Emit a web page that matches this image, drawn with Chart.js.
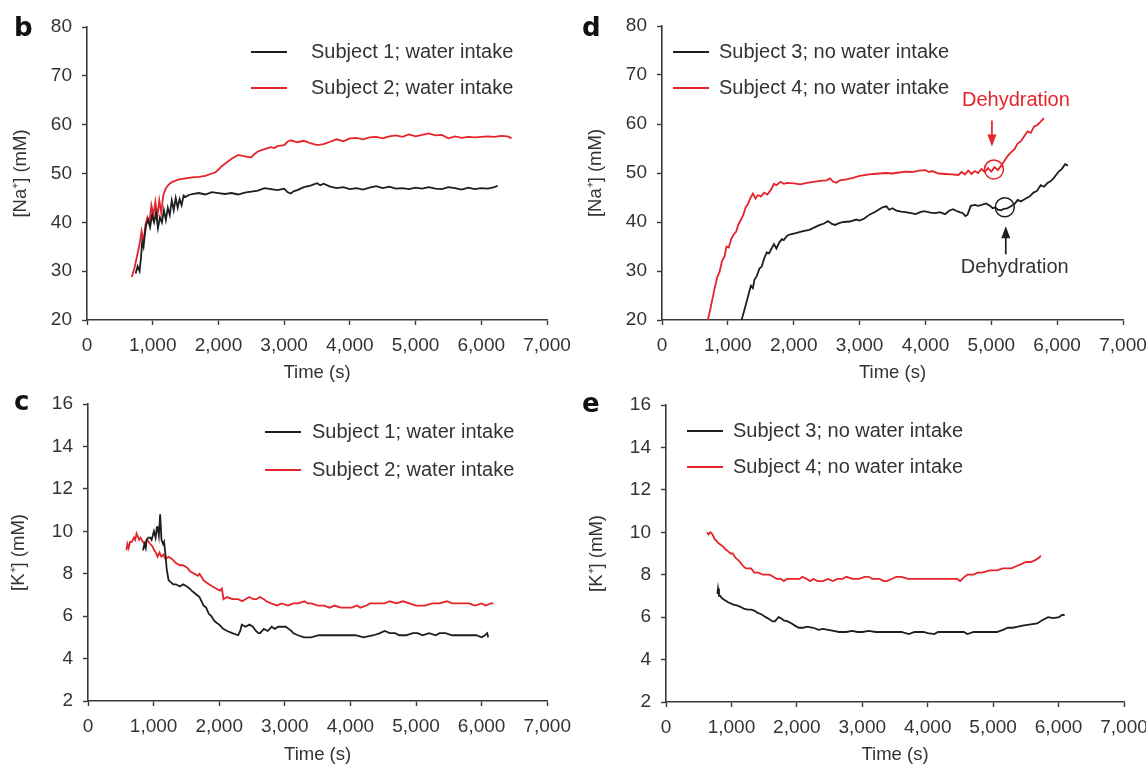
<!DOCTYPE html>
<html>
<head>
<meta charset="utf-8">
<script src="https://cdn.jsdelivr.net/npm/chart.js@4.4.1/dist/chart.umd.min.js"></script>
<style>
  html, body { margin: 0; padding: 0; background: #fff; }
  #wrap { position: relative; width: 1146px; height: 765px; overflow: hidden; }
  #wrap canvas { position: absolute; }
</style>
</head>
<body>
<div id="wrap">
  <canvas id="panelB"></canvas>
  <canvas id="panelD"></canvas>
  <canvas id="panelC"></canvas>
  <canvas id="panelE"></canvas>
</div>
<script>
// tick labels
const timeTicks = [0, 1000, 2000, 3000, 4000, 5000, 6000, 7000];
const naTicks = [20, 30, 40, 50, 60, 70, 80];
const kTicks = [2, 4, 6, 8, 10, 12, 14, 16];

// [time (s), concentration (mM)]
const naSubject1 = [[740,29.5],[770,31.0],[800,30.0],[820,32.5],[840,36.0],[860,35.0],[880,37.5],[900,39.5],[930,40.5],[960,39.0],[990,41.5],[1020,40.0],[1050,42.0],[1080,38.8],[1110,41.0],[1140,40.0],[1170,42.5],[1200,40.5],[1230,43.0],[1260,41.5],[1290,44.5],[1320,42.5],[1350,45.0],[1380,43.0],[1410,44.8],[1440,43.5],[1470,45.5],[1500,45.2],[1550,45.6],[1600,45.8],[1700,46.0],[1800,45.7],[1900,46.2],[2000,46.0],[2100,45.8],[2200,46.0],[2300,45.7],[2400,46.1],[2500,46.3],[2600,46.5],[2700,47.0],[2800,46.8],[2900,46.6],[3000,46.9],[3050,46.2],[3100,45.9],[3150,46.4],[3200,46.6],[3300,47.2],[3400,47.5],[3500,48.0],[3550,47.6],[3600,47.9],[3700,47.3],[3800,47.0],[3900,47.2],[4000,46.8],[4100,47.0],[4200,46.7],[4300,47.1],[4400,47.4],[4500,47.0],[4600,47.3],[4700,46.9],[4800,47.0],[4900,46.8],[5000,47.1],[5100,46.9],[5200,47.2],[5300,46.9],[5400,46.8],[5500,47.2],[5600,47.0],[5700,46.7],[5800,47.1],[5900,46.8],[6000,47.0],[6100,46.9],[6200,47.2],[6250,47.5]];
const naSubject2 = [[680,28.8],[720,30.5],[760,33.0],[800,35.5],[830,38.2],[860,36.0],[890,39.5],[920,41.0],[950,40.0],[980,43.5],[1010,41.5],[1040,44.2],[1070,41.0],[1100,44.5],[1130,42.0],[1160,45.5],[1200,47.0],[1250,47.8],[1300,48.3],[1400,48.8],[1500,49.0],[1600,49.2],[1700,49.3],[1800,49.5],[1900,50.0],[1950,50.2],[2000,50.8],[2050,51.5],[2100,52.0],[2200,53.0],[2300,53.8],[2400,53.5],[2500,53.3],[2550,54.0],[2600,54.5],[2700,55.0],[2800,55.4],[2850,55.2],[2900,55.6],[3000,55.8],[3050,56.5],[3100,56.8],[3200,56.4],[3300,56.7],[3400,56.2],[3500,55.8],[3600,56.0],[3700,56.5],[3800,57.0],[3900,56.6],[4000,57.2],[4100,57.3],[4200,57.0],[4300,57.4],[4400,57.5],[4500,57.2],[4600,57.6],[4700,57.8],[4800,57.5],[4900,58.0],[5000,57.6],[5100,57.9],[5200,58.2],[5300,57.8],[5400,57.9],[5500,57.2],[5600,57.6],[5700,57.3],[5800,57.5],[5900,57.4],[6000,57.5],[6100,57.6],[6200,57.5],[6300,57.7],[6400,57.6],[6460,57.2]];
const naSubject3 = [[1208,20],[1250,22.0],[1292,24.1],[1320,25.5],[1350,27.0],[1380,26.5],[1403,28.2],[1440,29.0],[1480,30.5],[1514,30.9],[1550,32.5],[1590,33.8],[1626,33.6],[1660,34.5],[1700,35.5],[1737,34.6],[1780,35.8],[1820,36.5],[1849,36.3],[1900,37.2],[1950,37.5],[2016,37.7],[2100,38.0],[2160,38.2],[2238,38.4],[2300,38.8],[2380,39.3],[2461,39.7],[2520,40.2],[2580,39.6],[2628,39.4],[2700,39.8],[2760,40.0],[2851,40.1],[2950,40.5],[3000,40.3],[3073,40.7],[3150,41.5],[3241,42.1],[3300,42.6],[3350,43.0],[3408,43.2],[3450,42.5],[3500,42.8],[3560,42.3],[3630,42.1],[3700,42.0],[3780,41.8],[3853,41.6],[3920,42.0],[3980,42.2],[4076,41.9],[4150,41.8],[4220,42.0],[4298,41.6],[4360,42.3],[4420,42.6],[4465,42.3],[4520,42.0],[4570,41.8],[4605,41.2],[4640,41.5],[4688,43.3],[4750,43.5],[4800,43.3],[4855,43.5],[4920,43.8],[4980,43.3],[5022,42.8],[5060,43.0],[5100,42.5],[5150,42.4],[5189,42.7],[5240,42.8],[5300,43.2],[5356,43.7],[5400,44.5],[5450,44.2],[5523,44.8],[5580,45.2],[5640,46.0],[5690,46.3],[5750,47.5],[5800,47.2],[5857,48.0],[5900,48.3],[5950,49.0],[6024,50.3],[6070,50.8],[6120,51.8],[6163,51.5]];
const naSubject4 = [[696,20],[730,22.0],[763,24.1],[800,26.5],[840,28.8],[874,29.8],[910,32.0],[950,33.0],[980,35.0],[1013,34.8],[1050,36.5],[1090,37.5],[1125,38.0],[1160,39.5],[1200,40.5],[1236,41.5],[1270,43.0],[1300,43.5],[1347,45.0],[1380,45.8],[1420,44.8],[1459,45.5],[1500,45.2],[1550,46.0],[1600,45.6],[1650,46.5],[1700,47.8],[1737,47.5],[1800,48.2],[1850,47.8],[1900,48.0],[2000,47.9],[2100,47.7],[2200,48.0],[2300,48.2],[2400,48.4],[2500,48.5],[2550,48.9],[2600,48.2],[2650,48.0],[2700,48.5],[2800,48.7],[2900,49.0],[3000,49.4],[3100,49.6],[3200,49.8],[3300,49.9],[3400,50.0],[3500,49.9],[3600,50.1],[3700,50.3],[3800,50.2],[3900,50.5],[4000,50.6],[4050,50.2],[4100,50.4],[4200,49.9],[4300,49.8],[4400,49.7],[4500,49.6],[4550,50.2],[4600,49.7],[4650,50.5],[4700,49.8],[4750,50.4],[4800,50.0],[4850,50.8],[4900,50.2],[4950,51.0],[5000,50.3],[5050,51.2],[5100,50.6],[5150,51.5],[5200,52.5],[5250,53.5],[5300,54.2],[5350,54.8],[5400,56.0],[5450,56.5],[5500,57.5],[5550,58.5],[5600,58.2],[5650,59.5],[5700,59.8],[5750,60.5],[5800,61.2]];

const kSubject1 = [[838,9.1],[860,9.4],[880,9.2],[893,9.6],[920,9.7],[949,9.7],[970,9.6],[1005,10.0],[1030,9.7],[1050,10.2],[1061,10.2],[1080,9.8],[1100,10.8],[1120,9.6],[1145,9.4],[1160,9.5],[1184,8.8],[1200,8.2],[1228,7.7],[1260,7.6],[1300,7.5],[1340,7.5],[1400,7.4],[1450,7.5],[1508,7.4],[1550,7.3],[1580,7.2],[1619,7.1],[1660,7.0],[1700,6.9],[1731,6.7],[1760,6.5],[1800,6.4],[1843,6.1],[1880,6.0],[1920,5.8],[1954,5.7],[2000,5.6],[2060,5.4],[2122,5.3],[2200,5.2],[2289,5.1],[2320,5.3],[2345,5.6],[2400,5.5],[2460,5.6],[2513,5.5],[2560,5.3],[2600,5.2],[2624,5.2],[2680,5.4],[2740,5.3],[2800,5.5],[2848,5.4],[2900,5.5],[2960,5.5],[3015,5.5],[3060,5.4],[3100,5.3],[3127,5.2],[3200,5.1],[3294,5.0],[3400,5.0],[3518,5.1],[3600,5.1],[3700,5.1],[3797,5.1],[3900,5.1],[4000,5.1],[4076,5.1],[4200,5.0],[4355,5.1],[4450,5.2],[4523,5.3],[4600,5.2],[4680,5.2],[4746,5.1],[4850,5.1],[4950,5.2],[5025,5.2],[5100,5.1],[5200,5.2],[5300,5.1],[5360,5.2],[5450,5.2],[5550,5.1],[5650,5.1],[5695,5.1],[5800,5.1],[5918,5.1],[6000,5.0],[6050,5.1],[6086,5.2],[6100,5.0]];
const kSubject2 = [[586,9.1],[600,9.4],[620,9.2],[640,9.5],[670,9.5],[700,9.7],[720,9.6],[740,9.9],[754,9.8],[780,9.6],[800,9.7],[838,9.5],[870,9.4],[900,9.6],[949,9.4],[980,9.3],[1010,9.1],[1033,9.0],[1060,8.8],[1090,9.0],[1117,8.8],[1150,8.9],[1180,8.7],[1228,8.8],[1280,8.7],[1340,8.5],[1400,8.4],[1450,8.4],[1508,8.3],[1560,8.1],[1620,8.0],[1675,7.9],[1700,8.0],[1760,7.7],[1800,7.6],[1843,7.5],[1900,7.4],[1950,7.3],[2010,7.2],[2040,7.3],[2066,6.8],[2120,6.9],[2200,6.8],[2289,6.8],[2350,6.7],[2400,6.8],[2460,6.9],[2520,6.8],[2568,6.8],[2620,6.9],[2680,6.8],[2720,6.7],[2792,6.6],[2880,6.5],[2950,6.6],[3050,6.5],[3127,6.6],[3200,6.6],[3300,6.7],[3350,6.6],[3406,6.6],[3500,6.5],[3600,6.5],[3685,6.4],[3760,6.5],[3850,6.4],[3950,6.4],[4020,6.4],[4100,6.5],[4150,6.4],[4243,6.5],[4300,6.6],[4400,6.6],[4523,6.6],[4600,6.7],[4700,6.6],[4802,6.7],[4900,6.6],[5000,6.5],[5137,6.5],[5250,6.6],[5350,6.6],[5472,6.7],[5550,6.6],[5650,6.6],[5750,6.6],[5807,6.6],[5900,6.5],[6000,6.6],[6060,6.5],[6142,6.6],[6180,6.6]];
const kSubject3 = [[785,7.1],[795,7.35],[810,7.0],[830,7.0],[852,6.9],[900,6.8],[950,6.7],[1020,6.6],[1080,6.55],[1130,6.5],[1188,6.4],[1250,6.35],[1300,6.35],[1357,6.3],[1400,6.2],[1450,6.15],[1525,6.0],[1580,5.9],[1630,5.8],[1665,5.8],[1721,6.0],[1760,5.95],[1800,5.85],[1861,5.8],[1920,5.7],[1970,5.6],[2029,5.5],[2100,5.5],[2150,5.55],[2253,5.5],[2330,5.4],[2400,5.45],[2478,5.4],[2560,5.35],[2646,5.3],[2750,5.3],[2850,5.35],[2926,5.3],[3000,5.3],[3100,5.35],[3206,5.3],[3300,5.3],[3400,5.3],[3487,5.3],[3600,5.3],[3711,5.2],[3800,5.3],[3935,5.3],[4000,5.25],[4100,5.2],[4159,5.3],[4250,5.3],[4350,5.3],[4439,5.3],[4550,5.3],[4608,5.2],[4700,5.3],[4832,5.3],[4950,5.3],[5056,5.3],[5150,5.4],[5224,5.5],[5300,5.5],[5380,5.55],[5448,5.6],[5550,5.65],[5673,5.7],[5750,5.85],[5841,6.0],[5920,5.95],[6009,6.0],[6050,6.1],[6093,6.1]];
const kSubject4 = [[628,10.0],[650,9.9],[680,10.0],[712,9.9],[740,9.7],[770,9.6],[796,9.5],[840,9.4],[880,9.3],[908,9.2],[950,9.1],[990,9.0],[1020,9.0],[1060,8.8],[1100,8.7],[1132,8.6],[1180,8.4],[1220,8.3],[1244,8.3],[1300,8.3],[1350,8.1],[1413,8.1],[1480,8.0],[1540,8.0],[1581,8.0],[1640,7.9],[1693,7.8],[1760,7.8],[1800,7.7],[1850,7.8],[1917,7.8],[1980,7.8],[2040,7.8],[2085,7.9],[2150,7.8],[2200,7.7],[2253,7.8],[2320,7.7],[2400,7.7],[2478,7.8],[2550,7.7],[2620,7.8],[2700,7.8],[2758,7.9],[2850,7.8],[2950,7.8],[3038,7.9],[3100,7.9],[3150,7.8],[3262,7.8],[3330,7.7],[3374,7.7],[3450,7.8],[3520,7.9],[3599,7.9],[3700,7.8],[3800,7.8],[3879,7.8],[3950,7.8],[4050,7.8],[4159,7.8],[4250,7.8],[4350,7.8],[4450,7.8],[4496,7.7],[4560,7.9],[4608,8.0],[4700,8.0],[4760,8.1],[4832,8.1],[4950,8.2],[5056,8.2],[5150,8.3],[5200,8.3],[5280,8.3],[5350,8.4],[5430,8.5],[5504,8.6],[5580,8.6],[5650,8.7],[5700,8.8],[5729,8.9]];

// dehydration markers on panel d: [time, Na]
const dehydration4 = [5040, 50.7];
const dehydration3 = [5205, 43.0];

const RED = '#e5232a';
const BLACK = '#1e1e1e';
const TEXT = '#333333';
const AXIS = '#3a3a3a';
const FONT = '"Liberation Sans", Arial, Helvetica, sans-serif';

function toPoints(pairs) {
    return pairs.map(p => ({ x: p[0], y: p[1] }));
}

function drawArrow(ctx, x, yTail, yHead, color) {
    const dir = yHead > yTail ? 1 : -1;
    ctx.save();
    ctx.strokeStyle = color;
    ctx.fillStyle = color;
    ctx.lineWidth = 1.7;
    ctx.beginPath();
    ctx.moveTo(x, yTail);
    ctx.lineTo(x, yHead - dir * 9);
    ctx.stroke();
    ctx.beginPath();
    ctx.moveTo(x - 4.5, yHead - dir * 12);
    ctx.lineTo(x + 4.5, yHead - dir * 12);
    ctx.lineTo(x, yHead);
    ctx.closePath();
    ctx.fill();
    ctx.restore();
}

// panel letter, legend and notes drawn on top
const panelDecor = {
    id: 'panelDecor',
    afterDraw(chart) {
        const cfg = chart.config.options.panel;
        const ctx = chart.ctx;
        ctx.save();
        ctx.fillStyle = '#111';
        ctx.font = 'bold 26px "DejaVu Sans", ' + FONT;
        ctx.textBaseline = 'alphabetic';
        ctx.textAlign = 'left';
        ctx.fillText(cfg.letter, cfg.letterPos[0], cfg.letterPos[1]);

        ctx.font = '20px ' + FONT;
        ctx.textBaseline = 'middle';
        chart.data.datasets.forEach((ds, i) => {
            const y = cfg.legend.y + i * cfg.legend.gap;
            ctx.strokeStyle = ds.borderColor;
            ctx.lineWidth = 1.8;
            ctx.beginPath();
            ctx.moveTo(cfg.legend.x, y);
            ctx.lineTo(cfg.legend.x + 36, y);
            ctx.stroke();
            ctx.fillStyle = TEXT;
            ctx.fillText(ds.label, cfg.legend.textX, y);
        });

        if (cfg.notes) {
            const xs = chart.scales.x, ys = chart.scales.y;
            const r4x = xs.getPixelForValue(dehydration4[0]), r4y = ys.getPixelForValue(dehydration4[1]);
            const r3x = xs.getPixelForValue(dehydration3[0]), r3y = ys.getPixelForValue(dehydration3[1]);
            ctx.lineWidth = 1.5;
            ctx.strokeStyle = RED;
            ctx.beginPath();
            ctx.arc(r4x, r4y, 9.5, 0, Math.PI * 2);
            ctx.stroke();
            ctx.strokeStyle = BLACK;
            ctx.beginPath();
            ctx.arc(r3x, r3y, 9.5, 0, Math.PI * 2);
            ctx.stroke();

            drawArrow(ctx, r4x - 2, r4y - 49, r4y - 23, RED);
            drawArrow(ctx, r3x + 1, r3y + 47, r3y + 19, BLACK);

            ctx.textAlign = 'center';
            ctx.fillStyle = RED;
            ctx.fillText('Dehydration', r4x + 22, r4y - 69);
            ctx.fillStyle = TEXT;
            ctx.fillText('Dehydration', r3x + 10, r3y + 60);
        }
        ctx.restore();
    }
};

function makePanel(cfg) {
    const canvas = document.getElementById(cfg.id);
    canvas.width = cfg.w;
    canvas.height = cfg.h;
    canvas.style.left = cfg.left + 'px';
    canvas.style.top = cfg.top + 'px';

    const tickFont = { family: FONT, size: 19 };
    const titleFont = { family: FONT, size: 18.5 };
    return new Chart(canvas.getContext('2d'), {
        type: 'line',
        data: {
            datasets: cfg.series.map(s => ({
                label: s.label,
                data: toPoints(s.data),
                borderColor: s.color,
                borderWidth: 1.8,
                pointRadius: 0,
                tension: 0,
                fill: false
            }))
        },
        options: {
            panel: cfg,
            responsive: false,
            animation: false,
            events: [],
            layout: { padding: { left: 0, top: cfg.area.t, right: cfg.w - cfg.area.r, bottom: 0 } },
            plugins: { legend: { display: false }, tooltip: { enabled: false } },
            scales: {
                x: {
                    type: 'linear',
                    min: 0,
                    max: 7000,
                    afterBuildTicks: s => { s.ticks = timeTicks.map(v => ({ value: v })); },
                    afterFit: s => { s.height = cfg.h - cfg.area.b; },
                    ticks: {
                        color: TEXT, font: tickFont, padding: 9, maxRotation: 0,
                        callback: v => v.toLocaleString('en-US')
                    },
                    grid: { drawOnChartArea: false, tickLength: 5, color: AXIS, tickWidth: 1.4 },
                    border: { color: AXIS, width: 1.6 },
                    title: { display: true, text: 'Time (s)', color: TEXT, font: titleFont, padding: 0 }
                },
                y: {
                    type: 'linear',
                    min: cfg.yTicks[0],
                    max: cfg.yTicks[cfg.yTicks.length - 1],
                    afterBuildTicks: s => { s.ticks = cfg.yTicks.map(v => ({ value: v })); },
                    afterFit: s => { s.width = cfg.area.l; },
                    ticks: { color: TEXT, font: tickFont, padding: 10 },
                    grid: { drawOnChartArea: false, tickLength: 5, color: AXIS, tickWidth: 1.4 },
                    border: { color: AXIS, width: 1.6 },
                    title: { display: true, text: cfg.yTitle, color: TEXT, font: titleFont, padding: { top: cfg.yTitlePad, bottom: 0 } }
                }
            }
        },
        plugins: [panelDecor]
    });
}

makePanel({
    id: 'panelB', left: 0, top: 0, w: 580, h: 384,
    area: { l: 87, r: 547, t: 27, b: 320 },
    yTicks: naTicks, yTitle: '[Na\u207A] (mM)', yTitlePad: 9.9,
    letter: 'b', letterPos: [14, 36],
    legend: { x: 251, textX: 311, y: 52, gap: 36 },
    series: [
        { label: 'Subject 1; water intake', data: naSubject1, color: BLACK },
        { label: 'Subject 2; water intake', data: naSubject2, color: RED }
    ]
});

makePanel({
    id: 'panelD', left: 573, top: 0, w: 600, h: 384,
    area: { l: 89, r: 550, t: 26, b: 320 },
    yTicks: naTicks, yTitle: '[Na\u207A] (mM)', yTitlePad: 11.4,
    letter: 'd', letterPos: [9, 36],
    legend: { x: 100, textX: 146, y: 52, gap: 36 },
    notes: true,
    series: [
        { label: 'Subject 3; no water intake', data: naSubject3, color: BLACK },
        { label: 'Subject 4; no water intake', data: naSubject4, color: RED }
    ]
});

makePanel({
    id: 'panelC', left: 0, top: 382, w: 580, h: 384,
    area: { l: 88, r: 550, t: 22, b: 319 },
    yTicks: kTicks, yTitle: '[K\u207A] (mM)', yTitlePad: 8.2,
    letter: 'c', letterPos: [14, 28],
    legend: { x: 265, textX: 312, y: 50, gap: 38 },
    series: [
        { label: 'Subject 1; water intake', data: kSubject1, color: BLACK },
        { label: 'Subject 2; water intake', data: kSubject2, color: RED }
    ]
});

makePanel({
    id: 'panelE', left: 573, top: 382, w: 600, h: 384,
    area: { l: 93, r: 551, t: 23, b: 320 },
    yTicks: kTicks, yTitle: '[K\u207A] (mM)', yTitlePad: 13,
    letter: 'e', letterPos: [9, 30],
    legend: { x: 114, textX: 160, y: 49, gap: 36 },
    series: [
        { label: 'Subject 3; no water intake', data: kSubject3, color: BLACK },
        { label: 'Subject 4; no water intake', data: kSubject4, color: RED }
    ]
});
</script>
</body>
</html>
